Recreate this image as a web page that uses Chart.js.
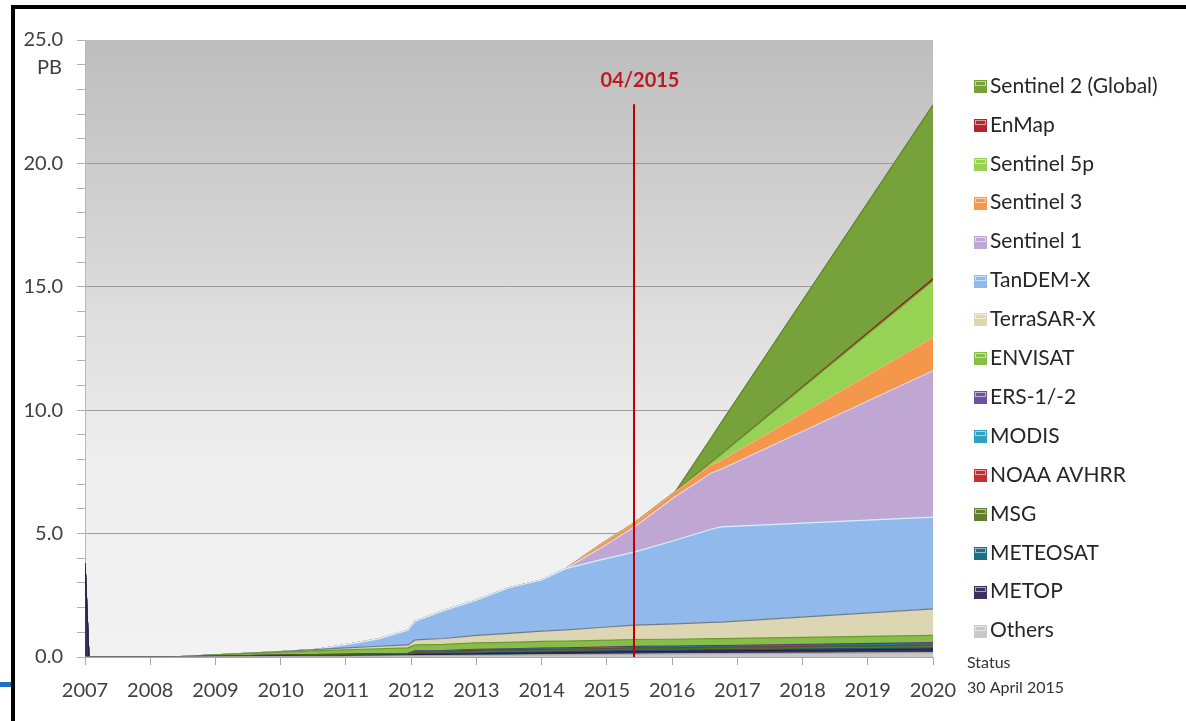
<!DOCTYPE html>
<html>
<head>
<meta charset="utf-8">
<title>Archive volume by mission</title>
<script src="https://cdn.jsdelivr.net/npm/chart.js@4.4.1/dist/chart.umd.min.js"></script>
<style>
  html, body { margin: 0; padding: 0; background: #fff; }
  #wrap { position: relative; width: 1186px; height: 721px; overflow: hidden; }
  #c { position: absolute; left: 0; top: 0; }
  #frame { position: absolute; left: 11px; top: 5px; width: 1300px; height: 800px;
           border-left: 4px solid #000; border-top: 4px solid #000; }
  #tab { position: absolute; left: 0; top: 682px; width: 11px; height: 5px; background: #1f6fc5; }
</style>
</head>
<body>
<div id="wrap">
  <canvas id="c" width="1186" height="721"></canvas>
  <div id="frame"></div>
  <div id="tab"></div>
</div>
<script>
// Sample dates (decimal years) shared by every series
const years = [2007.00, 2007.06, 2008.30, 2009.00, 2010.00, 2010.50, 2011.00, 2011.50, 2011.95, 2012.06,
               2012.50, 2013.00, 2013.50, 2014.00, 2014.37, 2014.90, 2015.42, 2016.05, 2016.60, 2016.75, 2020.00];

// Archive volume added by each mission (PB), stacked bottom to top
const others     = [0, 0, 0, 0.01, 0.02, 0.025, 0.03, 0.04, 0.05, 0.05, 0.06, 0.07, 0.08, 0.09, 0.10, 0.11, 0.12, 0.13, 0.14, 0.14, 0.18];
const metop      = [3.8, 0, 0, 0.01, 0.02, 0.025, 0.03, 0.04, 0.04, 0.05, 0.05, 0.06, 0.07, 0.08, 0.08, 0.09, 0.10, 0.10, 0.11, 0.11, 0.14];
const meteosat   = [0, 0, 0, 0, 0, 0, 0, 0, 0, 0.04, 0.04, 0.04, 0.04, 0.04, 0.04, 0.045, 0.045, 0.045, 0.045, 0.045, 0.05];
const msg        = [0, 0, 0, 0.02, 0.04, 0.045, 0.05, 0.055, 0.06, 0.06, 0.06, 0.065, 0.065, 0.07, 0.07, 0.07, 0.075, 0.075, 0.075, 0.075, 0.09];
const noaaAvhrr  = [0, 0, 0, 0, 0, 0, 0, 0, 0, 0, 0, 0.03, 0.03, 0.02, 0.02, 0.02, 0.02, 0.02, 0.02, 0.02, 0.02];
const modis      = [0, 0, 0, 0, 0, 0, 0, 0, 0, 0.02, 0.02, 0.02, 0.02, 0.025, 0.025, 0.03, 0.03, 0.03, 0.03, 0.03, 0.04];
const ers        = [0, 0, 0, 0, 0, 0, 0, 0, 0, 0.03, 0.03, 0.03, 0.03, 0.035, 0.035, 0.04, 0.04, 0.04, 0.045, 0.045, 0.06];
const envisat    = [0, 0, 0, 0.05, 0.12, 0.15, 0.18, 0.20, 0.22, 0.24, 0.25, 0.26, 0.26, 0.27, 0.27, 0.27, 0.28, 0.28, 0.28, 0.28, 0.30];
const terrasarX  = [0, 0, 0, 0, 0.02, 0.05, 0.08, 0.10, 0.12, 0.20, 0.24, 0.30, 0.36, 0.42, 0.46, 0.52, 0.58, 0.62, 0.66, 0.67, 1.07];
const tandemX    = [0, 0, 0, 0, 0, 0, 0.13, 0.30, 0.60, 0.76, 1.13, 1.43, 1.85, 2.07, 2.48, 2.74, 2.96, 3.39, 3.77, 3.86, 3.72];
const sentinel1  = [0, 0, 0, 0, 0, 0, 0, 0, 0, 0, 0, 0, 0, 0, 0, 0.47, 1.02, 1.77, 2.28, 2.33, 5.93];
const sentinel3  = [0, 0, 0, 0, 0, 0, 0, 0, 0, 0, 0, 0, 0, 0, 0, 0.14, 0.16, 0.20, 0.33, 0.35, 1.35];
const sentinel5p = [0, 0, 0, 0, 0, 0, 0, 0, 0, 0, 0, 0, 0, 0, 0, 0, 0, 0, 0.10, 0.25, 2.30];
const enmap      = [0, 0, 0, 0, 0, 0, 0, 0, 0, 0, 0, 0, 0, 0, 0, 0, 0, 0, 0, 0, 0.08];
const sentinel2  = [0, 0, 0, 0, 0, 0, 0, 0, 0, 0, 0, 0, 0, 0, 0, 0, 0, 0, 1.00, 1.28, 7.04];

const seriesNames = ['Others', 'METOP', 'METEOSAT', 'MSG', 'NOAA AVHRR', 'MODIS', 'ERS-1/-2', 'ENVISAT',
                     'TerraSAR-X', 'TanDEM-X', 'Sentinel 1', 'Sentinel 3', 'Sentinel 5p', 'EnMap', 'Sentinel 2 (Global)'];
const seriesValues = [others, metop, meteosat, msg, noaaAvhrr, modis, ers, envisat,
                      terrasarX, tandemX, sentinel1, sentinel3, sentinel5p, enmap, sentinel2];

// Axis ticks
const yearTicks = [2007, 2008, 2009, 2010, 2011, 2012, 2013, 2014, 2015, 2016, 2017, 2018, 2019, 2020];
const volumeMax = 25;

// Status marker
const statusDate = 2015.42;
const statusLabel = '04/2015';
const statusNote = ['Status', '30 April 2015'];
const unitLabel = 'PB';

// Styles
const fillColors = ['#c8c8c8', '#3d305e', '#1f6e88', '#627e30', '#c4302f', '#2fa2c0', '#6e52a0', '#86be47',
                    '#dcd6b2', '#91b9eb', '#c0a6d3', '#f4974a', '#96d254', '#b3262d', '#77a13b'];
const edgeColors = ['#a9a9a9', '#2a2045', '#15536a', '#4b6323', '#9b2020', '#1f7d96', '#503a7c', '#6a9b33',
                    '#6f7c8e', '#d2f0ff', '#e4d4ee', '#e9b27a', '#6d9d37', '#8a1a1f', '#5d8329'];

const datasets = seriesNames.map((name, i) => ({
  label: name,
  data: years.map((x, j) => ({ x: x, y: seriesValues[i][j] })),
  backgroundColor: fillColors[i],
  borderColor: edgeColors[i],
  borderWidth: 1.2,
  pointRadius: 0,
  pointHoverRadius: 0,
  tension: 0,
  fill: i === 0 ? 'origin' : '-1'
}));

const textColor = '#404040';
const fontFamily = 'Lato, "Open Sans", sans-serif';

// Grey-to-light vertical gradient behind the plot area
const plotBackground = {
  id: 'plotBackground',
  beforeDraw(chart) {
    const { ctx, chartArea: a } = chart;
    const g = ctx.createLinearGradient(0, a.top, 0, a.bottom);
    g.addColorStop(0, '#bdbdbd');
    g.addColorStop(0.45, '#dedede');
    g.addColorStop(0.68, '#eeeeee');
    g.addColorStop(1, '#f2f2f2');
    ctx.save();
    ctx.fillStyle = g;
    ctx.fillRect(a.left, a.top, a.right - a.left, a.bottom - a.top);
    ctx.restore();
  }
};

// Vertical line marking the status date, with its label
const statusMarker = {
  id: 'statusMarker',
  afterDatasetsDraw(chart) {
    const { ctx, scales: { x, y } } = chart;
    const px = Math.round(x.getPixelForValue(statusDate));
    const top = y.getPixelForValue(22.4);
    ctx.save();
    ctx.strokeStyle = '#c00000';
    ctx.lineWidth = 2;
    ctx.beginPath();
    ctx.moveTo(px, top);
    ctx.lineTo(px, y.getPixelForValue(0));
    ctx.stroke();
    ctx.fillStyle = '#bf1a20';
    ctx.font = 'bold 20px ' + fontFamily;
    ctx.textAlign = 'center';
    ctx.textBaseline = 'middle';
    ctx.fillText(statusLabel, px + 6, 81);
    ctx.restore();
  }
};

// Legend column on the right, topmost series first, plus unit and status notes
const sideNotes = {
  id: 'sideNotes',
  afterDraw(chart) {
    const { ctx, chartArea: a, scales: { y } } = chart;
    ctx.save();
    ctx.textBaseline = 'middle';
    ctx.textAlign = 'left';
    ctx.font = '21px ' + fontFamily;
    const n = chart.data.datasets.length;
    for (let r = 0; r < n; r++) {
      const ds = chart.data.datasets[n - 1 - r];
      const cy = 86 + r * 38.9;
      const sx = a.right + 41, sy = Math.round(cy - 6);
      ctx.fillStyle = ds.backgroundColor;
      ctx.fillRect(sx, sy, 13, 13);
      ctx.strokeStyle = 'rgba(255,255,255,0.55)';
      ctx.lineWidth = 1;
      ctx.strokeRect(sx + 1.5, sy + 1.5, 10, 4);
      ctx.fillStyle = '#262626';
      ctx.fillText(ds.label, sx + 16, cy);
    }
    ctx.font = '16px ' + fontFamily;
    ctx.fillStyle = '#333';
    ctx.fillText(statusNote[0], a.right + 34, 663);
    ctx.fillText(statusNote[1], a.right + 34, 688);
    ctx.font = '20px ' + fontFamily;
    ctx.fillStyle = textColor;
    ctx.textAlign = 'right';
    ctx.fillText(unitLabel, 62, y.getPixelForValue(volumeMax) + 28);
    ctx.restore();
  }
};

new Chart(document.getElementById('c'), {
  type: 'line',
  data: { datasets },
  options: {
    responsive: false,
    animation: false,
    devicePixelRatio: 1,
    layout: { padding: { left: 15, right: 253, top: 40, bottom: 0 } },
    plugins: { legend: { display: false }, tooltip: { enabled: false } },
    elements: { line: { borderJoinStyle: 'round' } },
    scales: {
      x: {
        type: 'linear',
        min: yearTicks[0],
        max: yearTicks[yearTicks.length - 1],
        afterFit(s) { s.height = 64; },
        afterBuildTicks(s) { s.ticks = yearTicks.map(v => ({ value: v })); },
        border: { display: true, color: '#a8a8a8', width: 1 },
        grid: { drawOnChartArea: false, drawTicks: true, tickLength: 8, tickColor: '#a8a8a8' },
        ticks: {
          autoSkip: false, maxRotation: 0, padding: 14, color: textColor,
          font: { family: fontFamily, size: 20 },
          callback: v => String(v)
        }
      },
      y: {
        stacked: true,
        min: 0,
        max: volumeMax,
        afterFit(s) { s.width = 70; },
        border: { display: true, color: '#b8b8b8', width: 1 },
        grid: {
          color: c => (c.tick && c.tick.value % 5 === 0 && c.tick.value > 0 && c.tick.value < volumeMax) ? '#9c9c9c' : 'rgba(0,0,0,0)',
          lineWidth: 1,
          drawTicks: true,
          tickLength: 8,
          tickColor: '#b0b0b0'
        },
        ticks: {
          stepSize: 1, autoSkip: false, padding: 14, color: textColor,
          font: { family: fontFamily, size: 20 },
          callback: v => (v % 5 === 0 ? v.toFixed(1) : '')
        }
      }
    }
  },
  plugins: [plotBackground, statusMarker, sideNotes]
});
</script>
</body>
</html>
